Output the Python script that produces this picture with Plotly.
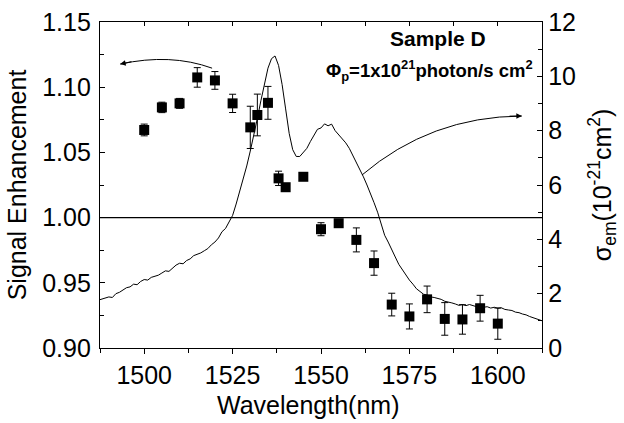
import plotly.graph_objects as go

# ---- data: signal enhancement (left axis) ----
enh_wl = [1500, 1505, 1510, 1515, 1520, 1525, 1530, 1532, 1535, 1538, 1540, 1545,
          1550, 1555, 1560, 1565, 1570, 1575, 1580, 1585, 1590, 1595, 1600]
enh_val = [1.0672, 1.0845, 1.0876, 1.1075, 1.1052, 1.0876, 1.0692, 1.0787, 1.0880,
           1.0301, 1.0233, 1.0313, 0.9911, 0.9957, 0.9829, 0.9651, 0.9333, 0.9242,
           0.9373, 0.9223, 0.9219, 0.9305, 0.9187]
enh_err = [0.0045, 0.0040, 0.0038, 0.0075, 0.0068, 0.0070, 0.0162, 0.0160, 0.0126,
           0.0055, 0.0025, 0.0025, 0.0050, 0.0025, 0.0092, 0.0093, 0.0087, 0.0096,
           0.0102, 0.0125, 0.0113, 0.0099, 0.0120]

# ---- data: emission cross section (right axis, 1e-21 cm^2) ----
sig_wl = list(range(1487, 1614))
sig_val = [
    1.76, 1.80, 1.84, 1.88, 1.86, 2.00, 2.05, 2.12, 2.22, 2.25,            # 1487-1496
    2.35, 2.33, 2.45, 2.52, 2.50, 2.60, 2.64, 2.68, 2.76, 2.84,            # 1497-1506
    2.82, 2.94, 3.05, 3.12, 3.10, 3.22, 3.28, 3.40, 3.45, 3.50,            # 1507-1516
    3.58, 3.66, 3.80, 3.90, 4.05, 4.28, 4.40, 4.62, 4.88, 5.30,            # 1517-1526
    5.75, 6.20, 6.70, 7.25, 7.80, 8.45, 9.10, 9.75, 10.30, 10.65,          # 1527-1536
    10.75, 10.40, 9.70, 8.80, 7.90, 7.30, 7.05, 7.05, 7.20, 7.35,          # 1537-1546
    7.60, 7.85, 8.05, 8.10, 8.25, 8.18, 8.24, 8.00, 7.85, 7.70,            # 1547-1556
    7.55, 7.35, 7.10, 6.85, 6.60, 6.30, 6.00, 5.70, 5.35, 5.00,            # 1557-1566
    4.60, 4.15, 3.90, 3.65, 3.35, 3.08, 2.88, 2.68, 2.50, 2.35,            # 1567-1576
    2.18, 2.08, 1.98, 1.95, 1.88, 1.86, 1.82, 1.79, 1.72, 1.70,            # 1577-1586
    1.66, 1.62, 1.57, 1.60, 1.56, 1.60, 1.55, 1.52, 1.55, 1.50,            # 1587-1596
    1.52, 1.47, 1.50, 1.46, 1.48, 1.42, 1.40, 1.38, 1.32, 1.30,            # 1597-1606
    1.25, 1.22, 1.16, 1.12, 1.06, 1.02, 0.98,                              # 1607-1613
]

x_ticks = [1500, 1525, 1550, 1575, 1600]
y_ticks = [0.90, 0.95, 1.00, 1.05, 1.10, 1.15]
y2_ticks = [0, 2, 4, 6, 8, 10, 12]

X_RANGE = [1487.5, 1612.5]
Y_RANGE = [0.90, 1.15]
Y2_RANGE = [0, 12]
REF_LEVEL = 1.00

# curved arrow geometry (annotation positions, data coords of left axis)
ARROW_L = dict(p0=(1519.2, 1.1146), c=(1507.4, 1.1262), p2=(1493.2, 1.1177), tail=(1496.8, 1.1198))
ARROW_R = dict(p0=(1561.6, 1.0327), c=(1581.0, 1.0775), p2=(1606.8, 1.0779), tail=(1602.9, 1.0778))

FONT = "Liberation Sans, Arial, Helvetica, sans-serif"
BLACK = "#000000"

fig = go.Figure()

fig.add_trace(go.Scatter(
    x=sig_wl, y=sig_val, mode="lines", yaxis="y2",
    line=dict(color=BLACK, width=1), showlegend=False, hoverinfo="skip"))

fig.add_trace(go.Scatter(
    x=enh_wl, y=enh_val, mode="markers",
    marker=dict(symbol="square", size=10, color=BLACK),
    error_y=dict(type="data", array=enh_err, color=BLACK, thickness=1, width=3.5),
    showlegend=False))

# dummy trace to show the top axis
fig.add_trace(go.Scatter(x=[X_RANGE[0]], y=[Y_RANGE[0]], xaxis="x2", mode="markers",
                         marker=dict(opacity=0), showlegend=False, hoverinfo="skip"))

axis_font = dict(family=FONT, size=25, color=BLACK)
title_font = dict(family=FONT, size=25, color=BLACK)

fig.update_layout(
    width=624, height=423,
    margin=dict(l=100, r=82, t=22, b=75),
    paper_bgcolor="white", plot_bgcolor="white",
    font=dict(family=FONT, color=BLACK),
    xaxis=dict(
        range=X_RANGE, tickvals=x_ticks, ticks="outside", ticklen=5, tickwidth=1.2,
        tickcolor=BLACK, showline=True, linecolor=BLACK, linewidth=1.3, automargin=False,
        showgrid=False, zeroline=False, tickfont=axis_font,
        minor=dict(dtick=12.5, tick0=1500, ticks="outside", ticklen=4, tickcolor=BLACK, tickwidth=1),
    ),
    xaxis2=dict(
        range=X_RANGE, overlaying="x", side="top", anchor="y", automargin=False,
        tick0=1500, dtick=12.5, ticks="inside", ticklen=4, tickcolor=BLACK,
        showticklabels=False, showline=True, linecolor=BLACK, linewidth=1.3,
        showgrid=False, zeroline=False,
    ),
    yaxis=dict(
        range=Y_RANGE, tickvals=y_ticks, tickformat=".2f", ticks="inside", ticklen=5,
        tickwidth=1.2, tickcolor=BLACK, showline=True, linecolor=BLACK, linewidth=1.3,
        showgrid=False, zeroline=False, tickfont=axis_font, automargin=False,
        ticklabelstandoff=3,
        minor=dict(dtick=0.025, tick0=0.9, ticks="inside", ticklen=4, tickcolor=BLACK, tickwidth=1),
        title=dict(text="Signal Enhancement", font=title_font, standoff=8),
    ),
    yaxis2=dict(
        range=Y2_RANGE, tickvals=y2_ticks, overlaying="y", side="right", anchor="x",
        ticks="inside", ticklen=5, tickwidth=1.2, tickcolor=BLACK, automargin=False,
        showline=True, linecolor=BLACK, linewidth=1.3,
        showgrid=False, zeroline=False, tickfont=axis_font,
        minor=dict(dtick=1, ticks="inside", ticklen=4, tickcolor=BLACK, tickwidth=1),
        title=dict(text="σ<sub>em</sub>(10<sup>-21</sup>cm<sup>2</sup>)", font=title_font, standoff=18),
    ),
)

# x-axis title (placed as annotation to match reference centering)
fig.add_annotation(x=0.47, y=-0.175, xref="paper", yref="paper", text="Wavelength(nm)",
                   showarrow=False, xanchor="center", yanchor="middle", font=title_font)

# reference line at 1.00
fig.add_shape(type="line", xref="paper", x0=0, x1=1, yref="y", y0=REF_LEVEL, y1=REF_LEVEL,
              line=dict(color=BLACK, width=1.3))

# curved arrows
for a in (ARROW_L, ARROW_R):
    path = "M {},{} Q {},{} {},{}".format(a["p0"][0], a["p0"][1], a["c"][0], a["c"][1],
                                         a["p2"][0], a["p2"][1])
    fig.add_shape(type="path", xref="x", yref="y", path=path, line=dict(color=BLACK, width=1))
    fig.add_annotation(x=a["p2"][0], y=a["p2"][1], ax=a["tail"][0], ay=a["tail"][1],
                       xref="x", yref="y", axref="x", ayref="y", text="", showarrow=True,
                       arrowhead=2, arrowsize=1.1, arrowwidth=1, arrowcolor=BLACK)

fig.add_annotation(x=1583.1, y=1.1376, xref="x", yref="y", text="<b>Sample D</b>",
                   showarrow=False, font=dict(family=FONT, size=21, color=BLACK))
fig.add_annotation(x=1580.8, y=1.1125, xref="x", yref="y",
                   text="<b>Φ<sub>p</sub>=1x10<sup>21</sup>photon/s cm<sup>2</sup></b>",
                   showarrow=False, font=dict(family=FONT, size=18.5, color=BLACK))

fig.write_html("out.html", config={"displayModeBar": False},
               post_script="document.body.style.margin='0px';")
